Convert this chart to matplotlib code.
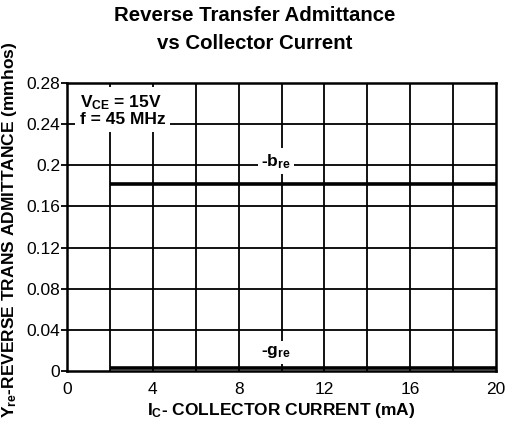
import matplotlib.pyplot as plt

plt.rcParams['font.family'] = ['Liberation Sans', 'DejaVu Sans']
plt.rcParams['mathtext.fontset'] = 'custom'
plt.rcParams['mathtext.rm'] = 'Liberation Sans:bold'
plt.rcParams['mathtext.bf'] = 'Liberation Sans:bold'
plt.rcParams['mathtext.default'] = 'bf'

# data
ic_ma = [2, 20]
neg_b_re = [0.182, 0.182]
neg_g_re = [0.003, 0.003]
x_ticks = [0, 4, 8, 12, 16, 20]
y_ticks = [0, 0.04, 0.08, 0.12, 0.16, 0.2, 0.24, 0.28]
y_tick_labels = ['0', '0.04', '0.08', '0.12', '0.16', '0.2', '0.24', '0.28']

fig = plt.figure(figsize=(5.1, 4.29), dpi=100)
ax = fig.add_axes([67 / 510, 58 / 429, 429 / 510, 288 / 429])

ax.set_xlim(0, 20)
ax.set_ylim(0, 0.28)

# grid every 2 mA and every 0.04
for gx in range(2, 20, 2):
    ax.axvline(gx, color='black', lw=1.3, zorder=1)
for gy in y_ticks[1:-1]:
    ax.axhline(gy, color='black', lw=1.3, zorder=1)

ax.plot(ic_ma, neg_b_re, color='black', lw=2.6, zorder=3, solid_capstyle='butt')
ax.plot(ic_ma, neg_g_re, color='black', lw=2.6, zorder=3, solid_capstyle='butt')

box = dict(facecolor='white', edgecolor='none', pad=2.5)
ax.text(9.75, 0.204, r'-b$_{re}$', fontsize=12.5, fontweight='bold',
        ha='center', va='center', bbox=box, zorder=4)
ax.text(9.75, 0.018, r'-g$_{re}$', fontsize=12.5, fontweight='bold',
        ha='center', va='center', bbox=box, zorder=4)
ax.text(0.6, 0.27, 'V$_{CE}$ = 15V\nf = 45 MHz', fontsize=12.5,
        fontweight='bold', ha='left', va='top', linespacing=1.0,
        bbox=dict(facecolor='white', edgecolor='none', pad=3.5), zorder=4)

ax.set_xticks(x_ticks)
ax.set_yticks(y_ticks)
ax.set_yticklabels(y_tick_labels)
ax.tick_params(axis='x', length=0, pad=8, labelsize=12.5)
ax.tick_params(axis='y', length=4, width=1.3, direction='out', labelsize=12.5, pad=1)
for s in ax.spines.values():
    s.set_linewidth(1.8)

ax.set_xlabel(r'I$_{C}$- COLLECTOR CURRENT (mA)', fontsize=12.5,
              fontweight='bold', labelpad=3)
ax.set_ylabel(r'Y$_{re}$-REVERSE TRANS ADMITTANCE (mmhos)', fontsize=12.5,
              fontweight='bold', va='center')
ax.yaxis.set_label_coords(-0.133, 0.49)

fig.suptitle('Reverse Transfer Admittance\nvs Collector Current', fontsize=14.7,
             fontweight='bold', y=0.985, linespacing=1.6)

fig.savefig('out.png', dpi=100)
